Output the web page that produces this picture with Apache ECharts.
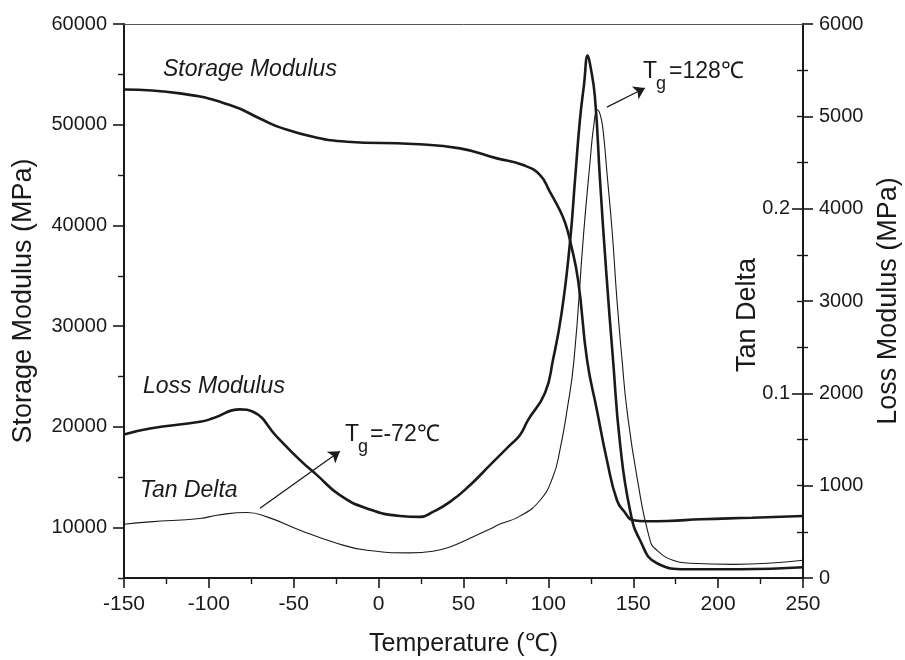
<!DOCTYPE html>
<html>
<head>
<meta charset="utf-8">
<script src="https://cdn.jsdelivr.net/npm/echarts@6/dist/echarts.min.js"></script>
<style>html,body{margin:0;padding:0;background:#fff}#c{width:905px;height:660px}</style>
</head>
<body>
<div id="c"></div>
<script>
// ---- data ----
const tempStorage = [-150,-117,-87.6,-68.1,-58.1,-38.7,-18.6,20.3,47.9,69.7,85.1,95.1,101,106.8,110,112.7,117.5,122.8,128.6,134.5,140.4,145,149.9,158,170,190,220,250];
const storageModulus = [53494,53116,51953,50464,49738,48805,48308,48080,47652,46659,45994,45000,43300,41500,40200,38544,34571,26625,21658,16692,12718,11526,10733,10630,10660,10830,10980,11160];

const tempLoss = [-150,-134.7,-105.2,-97.6,-81.7,-74,-59.9,-46.3,-36.3,-22.8,-6.8,12.6,24.4,32,42,53.8,65.6,77.4,83.3,88,98,102.7,107.8,112.7,115.7,118.6,121,123.2,124.6,127.4,130.4,134,138.1,142.2,148.1,154,164,181.7,212.9,250];
const lossModulus = [1555,1620,1692,1729,1826,1800,1529,1277,1114,897,753,672,662,716,824,1005,1222,1439,1548,1710,2003,2361,2871,3630,4313,4964,5344,5658,5560,5213,4313,3337,2361,1461,734,409,160,94,94,116];

const tempTan = [-150,-134.7,-105.2,-95.2,-77.5,-65.8,-46.3,-26.9,-6.8,18.5,32,42,53.8,65.6,71.5,83.3,95.1,102.7,106.8,111,115.1,120.7,124.5,126.8,128.8,131,132.8,134.5,137.5,140.4,143.4,146.3,152.2,159.9,164,173.4,183.4,208.8,250];
const tanDelta = [0.0291,0.0304,0.0322,0.0340,0.0355,0.0331,0.0259,0.0195,0.0150,0.0136,0.0145,0.0168,0.0215,0.0265,0.0292,0.0335,0.0421,0.0548,0.0693,0.0909,0.1181,0.1858,0.2249,0.2455,0.2536,0.2493,0.2374,0.2195,0.1886,0.1506,0.1181,0.0909,0.0546,0.0204,0.0150,0.0096,0.0080,0.0074,0.0096];

const leftMajorTicks = [10000,20000,30000,40000,50000,60000];
const leftMinorTicks = [5000,15000,25000,35000,45000,55000];
const tanTicks = [0.1,0.2];

// annotation arrows (data coordinates on temperature / storage modulus scale)
const arrowLow = [[-69.9,11923],[-22.8,17585]];
const arrowHigh = [[134.5,51755],[156.9,53642]];

const FONT = "'Liberation Sans', Arial, Helvetica, sans-serif";
const INK = '#1a1a1a';

function pairs(xs, ys){ return xs.map((x,i)=>[x, ys[i]]); }
const plain = v => String(v);

const chart = echarts.init(document.getElementById('c'), null, {renderer:'canvas'});
const labelStyle = {fontFamily: FONT, fontSize: 20, color: INK, formatter: plain};
const vNameStyle = {fontFamily: FONT, fontSize: 27, color: INK};
const hNameStyle = {fontFamily: FONT, fontSize: 25, color: INK};

chart.setOption({
  animation: false,
  backgroundColor: '#fff',
  grid: {left: 124, right: 102, top: 24, bottom: 82, containLabel: false, outerBoundsMode: 'none'},
  xAxis: [{
    type: 'value', min: -150, max: 250, interval: 50,
    axisLine: {onZero: false, lineStyle: {color: INK, width: 2}},
    axisTick: {length: 10, lineStyle: {color: INK, width: 1.6}},
    minorTick: {show: true, splitNumber: 2, length: 6, lineStyle: {color: INK, width: 1.4}},
    splitLine: {show: false},
    axisLabel: Object.assign({}, labelStyle, {margin: 16, fontSize: 21}),
    name: 'Temperature (℃)', nameLocation: 'middle', nameGap: 54,
    nameTextStyle: hNameStyle
  },{
    type: 'value', min: -150, max: 250, position: 'top',
    axisLine: {onZero: false, lineStyle: {color: '#555', width: 1}},
    axisTick: {show: false}, axisLabel: {show: false}, splitLine: {show: false}
  }],
  yAxis: [{
    type: 'value', min: 5000, max: 60000, interval: 5000, position: 'left',
    axisLine: {show: true, onZero: false, lineStyle: {color: INK, width: 2}},
    axisTick: {show: true, length: 11, customValues: leftMajorTicks, lineStyle: {color: INK, width: 1.6}},
    axisLabel: Object.assign({margin: 17, customValues: leftMajorTicks}, labelStyle),
    splitLine: {show: false},
    name: 'Storage Modulus (MPa)', nameLocation: 'middle', nameGap: 87, nameRotate: 90,
    nameTextStyle: vNameStyle
  },{
    type: 'value', min: 0, max: 6000, interval: 1000, position: 'right',
    axisLine: {show: true, onZero: false, lineStyle: {color: INK, width: 2}},
    axisTick: {show: true, length: 10, lineStyle: {color: INK, width: 1.6}},
    minorTick: {show: true, splitNumber: 2, length: 5, lineStyle: {color: INK, width: 1.4}},
    axisLabel: Object.assign({margin: 16}, labelStyle),
    splitLine: {show: false},
    name: 'Loss Modulus (MPa)', nameLocation: 'middle', nameGap: 72, nameRotate: 90,
    nameTextStyle: vNameStyle
  },{
    type: 'value', min: 0, max: 0.3, interval: 0.1, position: 'right', offset: 0,
    axisLine: {show: false, onZero: false},
    axisTick: {show: true, inside: true, length: 11, customValues: tanTicks, lineStyle: {color: INK, width: 1.6}},
    minorTick: {show: true, splitNumber: 4, length: 6, lineStyle: {color: INK, width: 1.4}},
    axisLabel: Object.assign({}, labelStyle, {inside: true, margin: 13, customValues: tanTicks}),
    splitLine: {show: false}
  },{
    type: 'value', min: 5000, max: 60000, interval: 5000, position: 'left',
    axisLine: {show: false, onZero: false},
    axisTick: {show: true, length: 6, customValues: leftMinorTicks, lineStyle: {color: INK, width: 1.4}},
    axisLabel: {show: false}, splitLine: {show: false}
  }],
  series: [{
    name: 'Storage Modulus', type: 'line', xAxisIndex: 0, yAxisIndex: 0,
    data: pairs(tempStorage, storageModulus), showSymbol: false, smooth: 0.5,
    lineStyle: {color: INK, width: 2.6}, emphasis: {disabled: true},
    markLine: {
      silent: true, symbol: ['none','arrow'], symbolSize: 11,
      label: {show: false},
      lineStyle: {color: INK, width: 1.3, type: 'solid'},
      emphasis: {disabled: true},
      data: [
        [{coord: arrowLow[0]}, {coord: arrowLow[1]}],
        [{coord: arrowHigh[0]}, {coord: arrowHigh[1]}]
      ]
    }
  },{
    name: 'Loss Modulus', type: 'line', xAxisIndex: 0, yAxisIndex: 1,
    data: pairs(tempLoss, lossModulus), showSymbol: false, smooth: 0.5,
    lineStyle: {color: INK, width: 2.6}, emphasis: {disabled: true}
  },{
    name: 'Tan Delta', type: 'line', xAxisIndex: 0, yAxisIndex: 2,
    data: pairs(tempTan, tanDelta), showSymbol: false, smooth: 0.5,
    lineStyle: {color: INK, width: 1.1}, emphasis: {disabled: true}
  }],
  graphic: [
    {type:'text', x:748, y:315, rotation: Math.PI/2, style:{text:'Tan Delta', font:'27px '+FONT, fill:INK, align:'center', verticalAlign:'middle'}},
    {type:'text', x:163, y:70, style:{text:'Storage Modulus', font:'italic 23px '+FONT, fill:INK, verticalAlign:'middle'}},
    {type:'text', x:143, y:387, style:{text:'Loss Modulus', font:'italic 23px '+FONT, fill:INK, verticalAlign:'middle'}},
    {type:'text', x:140, y:491, style:{text:'Tan Delta', font:'italic 23px '+FONT, fill:INK, verticalAlign:'middle'}},
    {type:'text', x:345, y:435, style:{text:'T', font:'23px '+FONT, fill:INK, verticalAlign:'middle'}},
    {type:'text', x:358, y:447, style:{text:'g', font:'18px '+FONT, fill:INK, verticalAlign:'middle'}},
    {type:'text', x:370, y:435, style:{text:'=-72℃', font:'23px '+FONT, fill:INK, verticalAlign:'middle'}},
    {type:'text', x:643, y:72, style:{text:'T', font:'23px '+FONT, fill:INK, verticalAlign:'middle'}},
    {type:'text', x:656, y:84, style:{text:'g', font:'18px '+FONT, fill:INK, verticalAlign:'middle'}},
    {type:'text', x:669, y:72, style:{text:'=128℃', font:'23px '+FONT, fill:INK, verticalAlign:'middle'}}
  ]
});
</script>
</body>
</html>
